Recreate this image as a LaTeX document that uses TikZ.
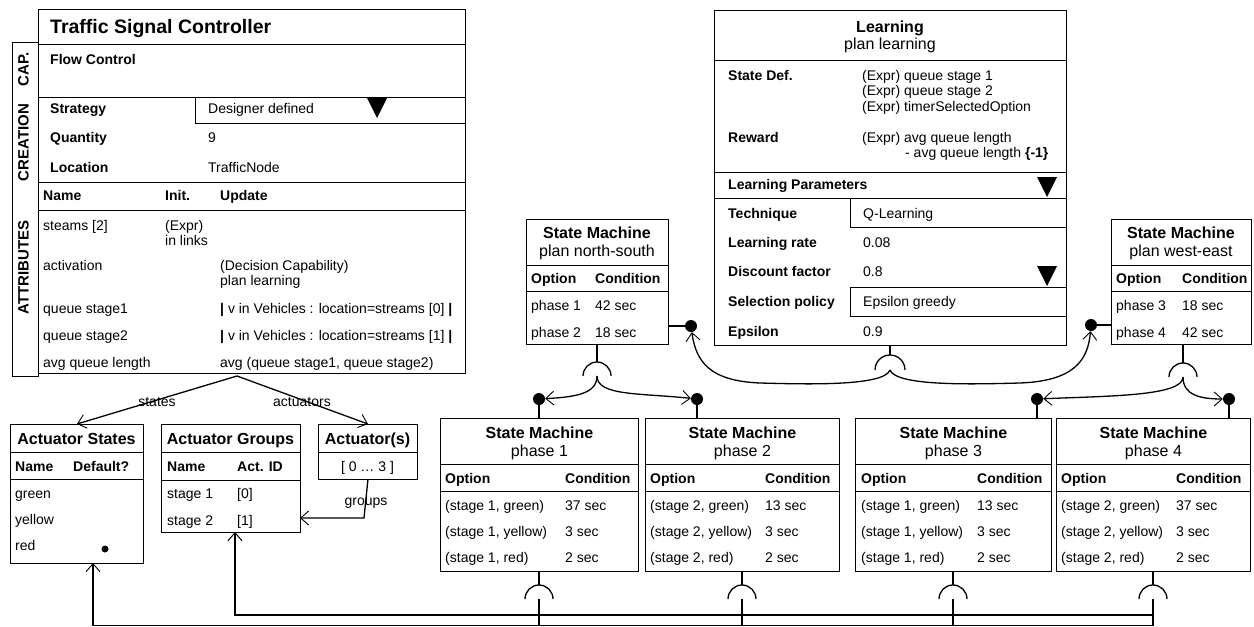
\documentclass[tikz,border=0pt]{standalone}
\usepackage{fontspec}
\setmainfont{Liberation Sans}
\usetikzlibrary{arrows.meta,calc}
\newcommand\bodyf{\fontsize{14}{16}\selectfont}
\newcommand\bodyb{\fontsize{14}{16}\selectfont\bfseries}
\newcommand\titf{\fontsize{16}{18}\selectfont}
\newcommand\titb{\fontsize{16}{18}\selectfont\bfseries}
\newcommand\sidef{\fontsize{15}{17}\selectfont\bfseries}
\newcommand\mytxt[4]{\node[txt,anchor=west] (#1) at (#2,#3) {#4};}
\newcommand\mybf[4]{\node[txt,anchor=west,font=\bodyb] (#1) at (#2,#3) {#4};}
\begin{document}
\begin{tikzpicture}[x=1pt,y=-1pt,
  txt/.style={inner sep=0pt, text height=10pt, text depth=3pt, font=\bodyf, yshift=-1.5pt},
  box/.style={draw, line width=0.9pt, inner sep=0pt, anchor=north west},
  ln/.style={line width=0.9pt},
  conn/.style={line width=1.3pt},
  oa/.style={-{Straight Barb[length=8pt,width=14pt,line width=0.9pt]}},
  dotn/.style={circle, fill, inner sep=0pt, minimum size=12pt}]
\useasboundingbox (0,0) rectangle (1254,627);

% ---------------- Traffic Signal Controller ----------------
\node[box,minimum width=427pt,minimum height=364pt] (ctrl) at (38,9) {};
\node[box,minimum width=26pt,minimum height=334pt] (side) at (12,42) {};
\draw[ln] (38,44) -- (465,44);
\draw[ln] (38,97) -- (465,97);
\draw[ln] (38,182) -- (465,182);
\draw[ln] (38,210) -- (465,210);
\draw[ln] (195,97) -- (195,123) -- (465,123);
\fill (367,98) -- (387,98) -- (377,118) -- cycle;
\node[txt,anchor=west,font=\fontsize{19.5}{22}\selectfont\bfseries] (ctitle) at (50,28) {Traffic Signal Controller};
\node[txt,font=\sidef,rotate=90] (scap) at (25,68) {CAP.};
\node[txt,font=\sidef,rotate=90] (scre) at (25,141) {CREATION};
\node[txt,font=\sidef,rotate=90] (satt) at (25,266) {ATTRIBUTES};
\mybf{fc}{50}{59}{Flow Control}
\mybf{str}{50}{108}{Strategy}
\mytxt{strv}{208}{108}{Designer defined}
\mybf{qty}{50}{137}{Quantity}
\mytxt{qtyv}{208}{137}{9}
\mybf{loc}{50}{167}{Location}
\mytxt{locv}{208}{167}{TrafficNode}
\mybf{hn}{43}{195}{Name}
\mybf{hi}{165}{195}{Init.}
\mybf{hu}{220}{195}{Update}
\mytxt{a1}{43}{225}{steams [2]}
\mytxt{a1i}{165}{225}{(Expr)}
\mytxt{a1j}{165}{240}{in links}
\mytxt{a2}{43}{265}{activation}
\mytxt{a2u}{220}{265}{(Decision Capability)}
\mytxt{a2v}{220}{280}{plan learning}
\mytxt{a3}{43}{308}{queue stage1}
\mytxt{a3u}{220}{308}{{\bfseries |} v in Vehicles : location=streams [0] {\bfseries |}}
\mytxt{a4}{43}{335}{queue stage2}
\mytxt{a4u}{220}{335}{{\bfseries |} v in Vehicles : location=streams [1] {\bfseries |}}
\mytxt{a5}{43}{362}{avg queue length}
\mytxt{a5u}{220}{362}{avg (queue stage1, queue stage2)}

% ---------------- Actuator boxes ----------------
\node[box,minimum width=133pt,minimum height=139pt] (ast) at (10,424) {};
\draw[ln] (10,452) -- (143,452);
\draw[ln] (10,479) -- (143,479);
\node[txt,font=\titb] (astt) at (76.5,439) {Actuator States};
\mybf{asn}{15}{466}{Name}
\mybf{asd}{73}{466}{Default?}
\mytxt{asg}{15}{493}{green}
\mytxt{asy}{15}{519}{yellow}
\mytxt{asr}{15}{545}{red}
\fill (105,549) circle (3.5pt);

\node[box,minimum width=139pt,minimum height=108pt] (agr) at (161,424) {};
\draw[ln] (161,452) -- (300,452);
\draw[ln] (161,480) -- (300,480);
\node[txt,font=\titb] (agrt) at (230.5,439) {Actuator Groups};
\mybf{agn}{167}{466}{Name}
\mybf{agi}{237}{466}{Act. ID}
\mytxt{ag1}{167}{493}{stage 1}
\mytxt{ag1v}{237}{493}{[0]}
\mytxt{ag2}{167}{520}{stage 2}
\mytxt{ag2v}{237}{520}{[1]}

\node[box,minimum width=99pt,minimum height=55pt] (aac) at (318,424) {};
\draw[ln] (318,452) -- (417,452);
\node[txt,font=\titb] (aact) at (367.5,439) {Actuator(s)};
\node[txt] (aacv) at (367.5,466) {[ 0 … 3 ]};

% controller -> actuators
\coordinate (cb) at (237,376);
\draw[conn,oa] (cb) -- (ast.north);
\draw[conn,oa] (cb) -- (aac.north);
\node[txt] (lstates) at (157,401) {states};
\node[txt] (lact) at (302,401) {actuators};
\coordinate (g0) at (368,479);
\coordinate (g1) at (364,518);
\coordinate (g2) at (300,518);
\draw[conn,oa] (g0) -- (g1) -- (g2);
\node[txt] (lgroups) at (366,500) {groups};

% ---------------- Learning ----------------
\node[box,minimum width=352pt,minimum height=335pt] (lrn) at (714,10) {};
\draw[ln] (714,60) -- (1066,60);
\draw[ln] (714,172) -- (1066,172);
\draw[ln] (714,198) -- (1066,198);
\draw[ln] (850,198) -- (850,227) -- (1066,227);
\draw[ln] (1066,287) -- (850,287) -- (850,316) -- (1066,316);
\fill (1037,177) -- (1057,177) -- (1047,197) -- cycle;
\fill (1037,266) -- (1057,266) -- (1047,286) -- cycle;
\node[txt,font=\titb] (lt1) at (890,27) {Learning};
\node[txt,font=\titf] (lt2) at (890,44) {plan learning};
\mybf{sd}{728}{75}{State Def.}
\mytxt{sd1}{862}{75}{(Expr) queue stage 1}
\mytxt{sd2}{862}{90}{(Expr) queue stage 2}
\mytxt{sd3}{862}{106}{(Expr) timerSelectedOption}
\mybf{rw}{728}{137}{Reward}
\mytxt{rw1}{862}{137}{(Expr) avg queue length}
\mytxt{rw2}{905}{152}{- avg queue length \textbf{\{-1\}}}
\mybf{lp}{728}{184}{Learning Parameters}
\mybf{tq}{728}{213}{Technique}
\mytxt{tqv}{863}{213}{Q-Learning}
\mybf{lr}{728}{242}{Learning rate}
\mytxt{lrv}{863}{242}{0.08}
\mybf{df}{728}{271}{Discount factor}
\mytxt{dfv}{863}{271}{0.8}
\mybf{sp}{728}{301}{Selection policy}
\mytxt{spv}{863}{301}{Epsilon greedy}
\mybf{ep}{728}{331}{Epsilon}
\mytxt{epv}{863}{331}{0.9}

% ---------------- plan state machines ----------------
\node[box,minimum width=142pt,minimum height=125pt] (ns) at (526,219) {};
\draw[ln] (526,265) -- (668,265);
\draw[ln] (526,291) -- (668,291);
\node[txt,font=\titb] (nst1) at (597,233) {State Machine};
\node[txt,font=\titf] (nst2) at (597,251) {plan north-south};
\mybf{nsh1}{531}{278}{Option}
\mybf{nsh2}{595}{278}{Condition}
\mytxt{nsr1}{531}{305}{phase 1}
\mytxt{nsr1v}{595}{305}{42 sec}
\mytxt{nsr2}{531}{332}{phase 2}
\mytxt{nsr2v}{595}{332}{18 sec}

\node[box,minimum width=140pt,minimum height=125pt] (we) at (1111,219) {};
\draw[ln] (1111,265) -- (1251,265);
\draw[ln] (1111,291) -- (1251,291);
\node[txt,font=\titb] (wet1) at (1181,233) {State Machine};
\node[txt,font=\titf] (wet2) at (1181,251) {plan west-east};
\mybf{weh1}{1116}{278}{Option}
\mybf{weh2}{1182}{278}{Condition}
\mytxt{wer1}{1116}{305}{phase 3}
\mytxt{wer1v}{1182}{305}{18 sec}
\mytxt{wer2}{1116}{332}{phase 4}
\mytxt{wer2v}{1182}{332}{42 sec}

% ---------------- phase state machines ----------------
\foreach \n/\xl/\w in {p1/440/198, p2/645/194, p3/855/196, p4/1056/194}{
  \node[box,minimum width=\w pt,minimum height=153pt] (\n) at (\xl,418) {};
  \draw[ln] (\xl,464) -- ++(\w,0);
  \draw[ln] (\xl,491) -- ++(\w,0);
  \node[txt,font=\titb] (\n-t) at ([yshift=-15pt]\n.north) {State Machine};
}
\node[txt,font=\titf] (p1-s) at ([yshift=-33pt]p1.north) {phase 1};
\node[txt,font=\titf] (p2-s) at ([yshift=-33pt]p2.north) {phase 2};
\node[txt,font=\titf] (p3-s) at ([yshift=-33pt]p3.north) {phase 3};
\node[txt,font=\titf] (p4-s) at ([yshift=-33pt]p4.north) {phase 4};
\foreach \n/\xo/\xc/\st/\gs in {p1/445/565/1/37, p2/650/765/2/13, p3/861/977/1/13, p4/1061/1176/2/37}{
  \node[txt,anchor=west,font=\bodyb] (\n-h1) at (\xo,478) {Option};
  \node[txt,anchor=west,font=\bodyb] (\n-h2) at (\xc,478) {Condition};
  \node[txt,anchor=west] (\n-r1) at (\xo,505) {(stage \st, green)};
  \node[txt,anchor=west] (\n-v1) at (\xc,505) {\gs\ sec};
  \node[txt,anchor=west] (\n-r2) at (\xo,531) {(stage \st, yellow)};
  \node[txt,anchor=west] (\n-v2) at (\xc,531) {3 sec};
  \node[txt,anchor=west] (\n-r3) at (\xo,557) {(stage \st, red)};
  \node[txt,anchor=west] (\n-v3) at (\xc,557) {2 sec};
}

% ---------------- dots and sockets ----------------
\node[dotn] (d1) at (539,399) {};
\node[dotn] (d2) at (697,399) {};
\node[dotn] (d3) at (1037,399) {};
\node[dotn] (d4) at (1229,399) {};
\node[dotn] (nsd) at (691,326) {};
\node[dotn] (wed) at (1091,325) {};
\draw[conn] (d1) -- (d1 |- p1.north);
\draw[conn] (d2) -- (d2 |- p2.north);
\draw[conn] (d3) -- (d3 |- p3.north);
\draw[conn] (d4) -- (d4 |- p4.north);
\draw[conn] (nsd) -- (nsd -| ns.east);
\draw[conn] (wed) -- (wed -| we.west);

% north-south socket
\coordinate (nsj) at (597,376);
\draw[conn] (597,344) -- (597,362);
\draw[conn] (583,376) arc (180:0:14pt);
\draw[conn,oa] (nsj) .. controls (597,394) and (575,397) .. (d1);
\draw[conn,oa] (nsj) .. controls (597,396) and (640,393) .. (d2);

% west-east socket
\coordinate (wej) at (1183,377);
\draw[conn] (1183,344) -- (1183,363);
\draw[conn] (1169,377) arc (180:0:14pt);
\draw[conn,oa] (wej) .. controls (1183,396) and (1110,396) .. (d3);
\draw[conn,oa] (wej) .. controls (1183,395) and (1200,399) .. (d4);

% learning socket
\coordinate (lj) at (890,370);
\draw[conn] (890,345) -- (890,355);
\draw[conn] (875,370) arc (180:0:15pt);
\draw[conn,oa] (lj) .. controls (884,387) and (800,384) .. (760,383) .. controls (710,381) and (696,362) .. (nsd);
\draw[conn,oa] (lj) .. controls (896,387) and (980,384) .. (1020,383) .. controls (1072,381) and (1088,362) .. (wed);

% phase sockets to bus
\foreach \x in {539,742,953,1153}{
  \draw[conn] (\x,571) -- (\x,585);
  \draw[conn] (\x-14,599) arc (180:0:14pt);
  \draw[conn] (\x,599) -- (\x,626);
}
\coordinate (busA) at (1153,615);
\coordinate (busAc) at (235,615);
\coordinate (grpIn) at (235,532);
\draw[line width=2pt,-{Straight Barb[length=8pt,width=14pt,line width=1pt]}] (busA) -- (busAc) -- (grpIn);
\coordinate (busB) at (1153,625.5);
\coordinate (busBc) at (93,625.5);
\coordinate (stIn) at (93,563);
\draw[conn,oa] (busB) -- (busBc) -- (stIn);
\end{tikzpicture}
\end{document}
